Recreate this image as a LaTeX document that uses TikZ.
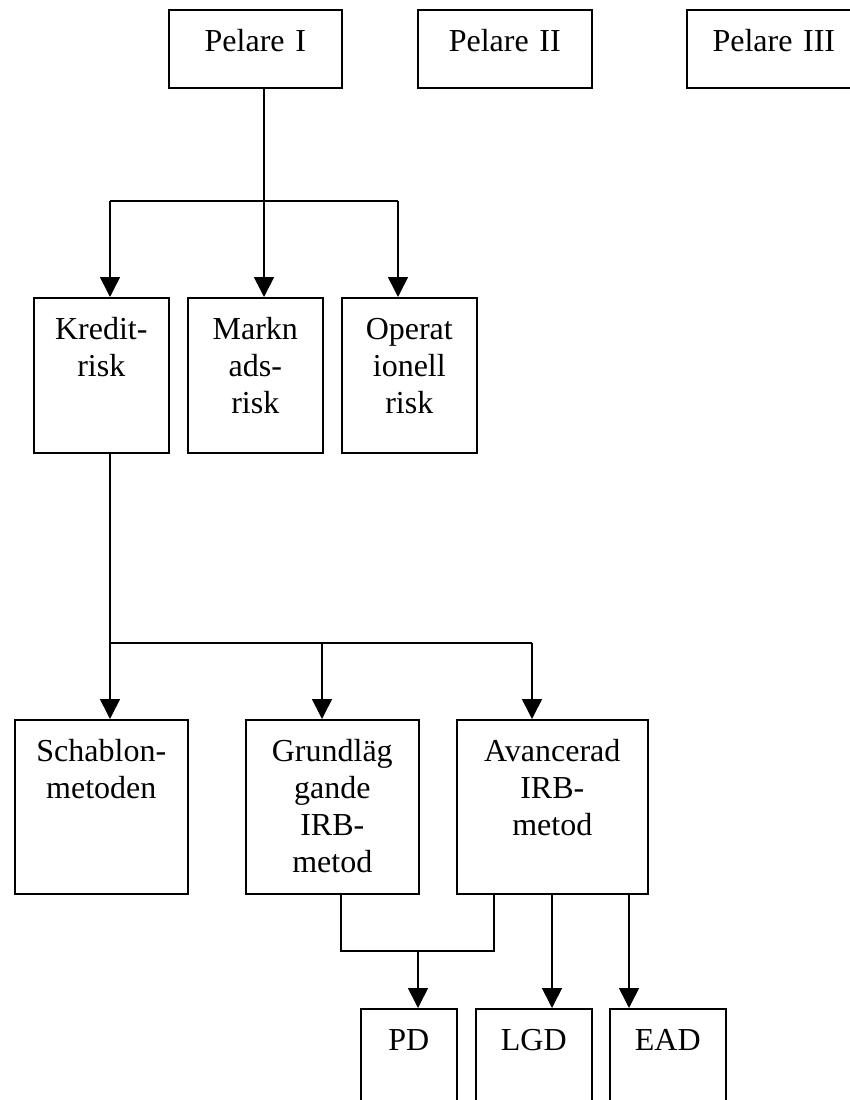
\documentclass[tikz,border=0pt]{standalone}
\usepackage{fontspec}
\setmainfont{Liberation Serif}
\usetikzlibrary {arrows.meta}

\begin{document}
\begin{tikzpicture} [
        x=1pt, y=-1pt,
        font=\fontsize{32}{37}\selectfont,
        line width=1.6pt,
        box/.style={draw, rectangle, inner sep=0pt, align=center, text height=42pt, anchor=north west},
        pelarbox/.style={box, text depth=36pt},
        riskbox/.style={box, text width=135pt, text depth=113pt},
        metodbox/.style={box, text depth=132pt},
        parambox/.style={box, text depth=108pt},
        arr/.style={-{Triangle[width=20pt,length=20pt]}} ]
    \useasboundingbox (0,0) rectangle (850,1100);
    \clip (0,0) rectangle (850,1100);
    % pelare
    \node[pelarbox, text width=173pt] (p1) at (168,9) {Pelare I};
    \node[pelarbox, text width=174pt] (p2) at (417,9) {Pelare II};
    \node[pelarbox, text width=174pt] (p3) at (686,9) {Pelare III};
    % risker
    \node[riskbox] (kredit) at (33,297) {Kredit-\\risk};
    \node[riskbox] (marknad) at (187,297) {Markn\\ads-\\risk};
    \node[riskbox] (operativ) at (341,297) {Operat\\ionell\\risk};
    % metoder
    \node[metodbox, text width=173pt] (schablon) at (14,719) {Schablon-\\metoden};
    \node[metodbox, text width=173pt] (grund) at (245,719) {Grundläg\\gande\\IRB-\\metod};
    \node[metodbox, text width=191pt] (avancerad) at (456,719) {Avancerad\\IRB-\\metod};
    % parametrar
    \node[parambox, text width=96pt] (pd) at (360,1008) {PD};
    \node[parambox, text width=116pt] (lgd) at (475,1008) {LGD};
    \node[parambox, text width=116pt] (ead) at (609,1008) {EAD};

    \coordinate (j1) at (264,201);
    \coordinate (j1a) at (110,201);
    \coordinate (j1b) at (398,201);
    \draw (p1.south -| j1) -- (j1);
    \draw (j1a) -- (j1b);
    \draw[arr] (j1a) -- (kredit.north -| j1a);
    \draw[arr] (j1) -- (marknad.north -| j1);
    \draw[arr] (j1b) -- (operativ.north -| j1b);

    \coordinate (j2) at (110,643);
    \coordinate (j2a) at (322,643);
    \coordinate (j2b) at (532,643);
    \draw (kredit.south -| j2) -- (j2) -- (j2b);
    \draw[arr] (j2) -- (schablon.north -| j2);
    \draw[arr] (j2a) -- (grund.north -| j2a);
    \draw[arr] (j2b) -- (avancerad.north -| j2b);

    \coordinate (j3a) at (341,951);
    \coordinate (j3b) at (494,951);
    \coordinate (j3) at (418,951);
    \coordinate (j4) at (552,951);
    \coordinate (j5) at (629,951);
    \draw (grund.south -| j3a) -- (j3a) -- (j3b) -- (avancerad.south -| j3b);
    \draw[arr] (j3) -- (pd.north -| j3);
    \draw[arr] (avancerad.south -| j4) -- (lgd.north -| j4);
    \draw[arr] (avancerad.south -| j5) -- (ead.north -| j5);
\end{tikzpicture}
\end{document}
